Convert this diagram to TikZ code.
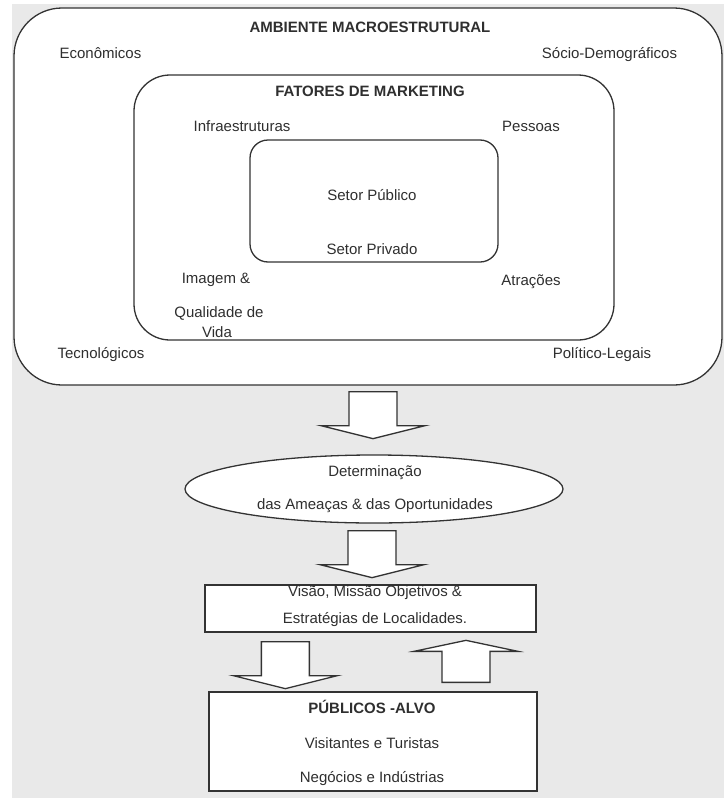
\documentclass[tikz,border=0pt]{standalone}
\usepackage{fontspec}
\setmainfont{Liberation Sans}
\usetikzlibrary{shapes.geometric,calc}
\definecolor{bggray}{HTML}{E9E9E9}
\definecolor{linegray}{HTML}{333333}
\definecolor{txtgray}{HTML}{2F2F2F}
\tikzset{
  frame/.style={draw=linegray, line width=1.3pt, fill=white, inner sep=0pt},
  lbl/.style={text=txtgray, font=\fontsize{15}{18}\selectfont, inner sep=0pt, text height=11pt, text depth=0pt},
  ttl/.style={lbl, font=\fontsize{15}{18}\selectfont\bfseries},
  blk/.style={draw=linegray, line width=1.3pt, fill=white, line join=miter},
  blockdown/.pic={\draw[blk] (-24,0) -- (24,0) -- (24,34) -- (52,34) -- (0,47) -- (-52,34) -- (-24,34) -- cycle;},
  blockup/.pic={\draw[blk] (-24,0) -- (24,0) -- (24,-31) -- (52,-31) -- (0,-42) -- (-52,-31) -- (-24,-31) -- cycle;}
}
\begin{document}
\begin{tikzpicture}[x=1pt,y=-1pt]
\fill[white] (0,0) rectangle (724,798);
\fill[bggray] (12,4) rectangle (724,798);
\useasboundingbox (0,0) rectangle (724,798);

% boxes
\node[frame, rounded corners=48, minimum width=708, minimum height=377] (outer) at (368,196.5) {};
\node[frame, rounded corners=36, minimum width=480, minimum height=265] (inner) at (374,207.5) {};
\node[frame, rounded corners=18, minimum width=248, minimum height=122] (core) at (374,201) {};
\node[frame, ellipse, minimum width=378, minimum height=68] (threat) at (374,489) {};
\node[frame, minimum width=331, minimum height=47] (vision) at (370.5,608.5) {};
\node[frame, minimum width=328, minimum height=99] (target) at (373,741.5) {};

% block arrows
\pic at ($(outer.south)+(5,6)$) {blockdown};
\pic at ($(threat.south)+(-2,7)$) {blockdown};
\pic at ($(vision.south west)+(81,9)$) {blockdown};
\pic at ($(target.north)+(93,-9)$) {blockup};

% texts
\node[ttl] (tamb) at (370,27) {AMBIENTE MACROESTRUTURAL};
\node[lbl] (teco) at (100.5,53) {Econômicos};
\node[lbl] (tsoc) at (609.5,53) {Sócio-Demográficos};
\node[ttl] (tfat) at (370,91) {FATORES DE MARKETING};
\node[lbl] (tinf) at (242,126) {Infraestruturas};
\node[lbl] (tpes) at (531,126) {Pessoas};
\node[lbl] (tpub) at (372,195) {Setor Público};
\node[lbl] (tpri) at (372,249) {Setor Privado};
\node[lbl] (timg) at (216,278) {Imagem \&};
\node[lbl] (tatr) at (531,280) {Atrações};
\node[lbl] (tqua) at (219,312) {Qualidade de};
\node[lbl] (tvid) at (217,332) {Vida};
\node[lbl] (ttec) at (101,353) {Tecnológicos};
\node[lbl] (tpol) at (602,353) {Político-Legais};
\node[lbl] (tdet) at (375,471) {Determinação};
\node[lbl] (tame) at (375,504) {das Ameaças \& das Oportunidades};
\node[lbl] (tvis) at (375,591) {Visão, Missão Objetivos \&};
\node[lbl] (test) at (375,618) {Estratégias de Localidades.};
\node[ttl] (tpa) at (372,708) {PÚBLICOS -ALVO};
\node[lbl] (tvt) at (372,743) {Visitantes e Turistas};
\node[lbl] (tni) at (372,777) {Negócios e Indústrias};
\end{tikzpicture}
\end{document}
